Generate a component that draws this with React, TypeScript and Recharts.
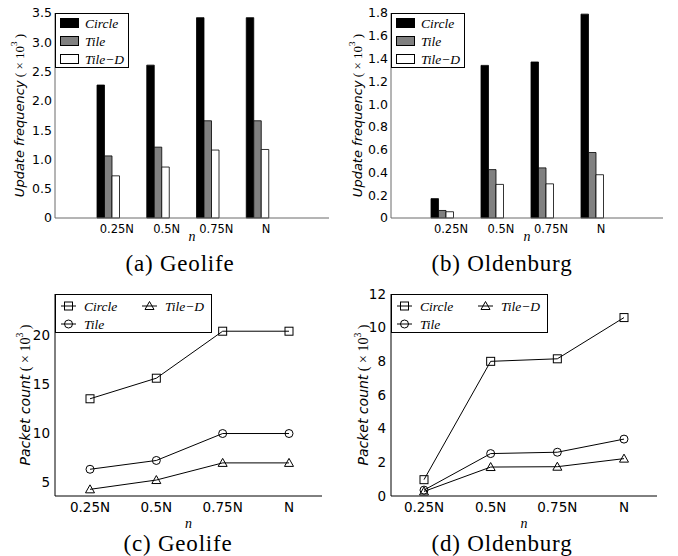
import React from "react";
import { Bar, BarChart, Line, LineChart, XAxis, YAxis } from "recharts";

const nLabels = ["0.25N", "0.5N", "0.75N", "N"];

// (a) Geolife, update frequency (x10^3)
const geoUpdCircle = [2.27, 2.61, 3.42, 3.42];
const geoUpdTile = [1.06, 1.21, 1.66, 1.66];
const geoUpdTileD = [0.72, 0.87, 1.16, 1.17];

// (b) Oldenburg, update frequency (x10^3)
const oldUpdCircle = [0.17, 1.34, 1.37, 1.79];
const oldUpdTile = [0.066, 0.425, 0.44, 0.575];
const oldUpdTileD = [0.055, 0.295, 0.3, 0.38];

// (c) Geolife, packet count (x10^3)
const geoPktCircle = [13.5, 15.6, 20.4, 20.4];
const geoPktTile = [6.3, 7.2, 9.95, 9.95];
const geoPktTileD = [4.25, 5.2, 6.95, 6.95];

// (d) Oldenburg, packet count (x10^3)
const oldPktCircle = [0.97, 8.0, 8.15, 10.6];
const oldPktTile = [0.35, 2.52, 2.6, 3.38];
const oldPktTileD = [0.27, 1.72, 1.74, 2.22];

const updTicksA = [0, 0.5, 1, 1.5, 2, 2.5, 3, 3.5];
const updTicksB = [0, 0.2, 0.4, 0.6, 0.8, 1, 1.2, 1.4, 1.6, 1.8];
const pktTicksC = [5, 10, 15, 20];
const pktTicksD = [0, 2, 4, 6, 8, 10, 12];

const sans = "'DejaVu Sans', sans-serif";
const serif = "'Times New Roman', 'Liberation Serif', Times, serif";
const GRAY = "#6a6a6a";

const rows = (a: number[], b: number[], c: number[]) =>
  nLabels.map((n, i) => ({ n, circle: a[i], tile: b[i], tileD: c[i] }));

const yLabel = (title: string, cx: number, fs: number) => (props: any) => {
  const vb = props.viewBox;
  const cy = vb.y + vb.height / 2;
  return (
    <text transform={`translate(${cx},${cy}) rotate(-90)`} textAnchor="middle" dominantBaseline="central" fontSize={fs} fill="#000">
      <tspan fontFamily={sans} fontStyle="italic">{title}</tspan>
      <tspan fontFamily={serif}>{" ( × 10"}</tspan>
      <tspan fontFamily={serif} fontSize={fs * 0.7} dy={-fs * 0.4}>3</tspan>
      <tspan fontFamily={serif} dy={fs * 0.4}>{" )"}</tspan>
    </text>
  );
};

const xLabel = (dy: number) => (props: any) => {
  const vb = props.viewBox;
  return (
    <text x={vb.x + vb.width / 2} y={vb.y + dy} textAnchor="middle" fontFamily={serif} fontStyle="italic" fontSize={14} fill="#000">
      n
    </text>
  );
};

const fmtBar = (v: number) => (v === 0 ? "0" : v.toFixed(1));

function BarLegend() {
  const items = [
    { name: "Circle", fill: "#000" },
    { name: "Tile", fill: "#808080" },
    { name: "Tile\u2212D", fill: "#fff" },
  ];
  return (
    <svg width={75} height={56} style={{ position: "absolute", left: 0, top: 0 }}>
      <rect x={0.5} y={0.5} width={73} height={54} fill="#fff" stroke="#000" />
      {items.map((it, i) => (
        <g key={it.name}>
          <rect x={5.5} y={5.5 + i * 18} width={18} height={9} fill={it.fill} stroke="#000" />
          <text x={30} y={14.5 + i * 18} fontFamily={serif} fontStyle="italic" fontSize={13.5}>
            {it.name}
          </text>
        </g>
      ))}
    </svg>
  );
}

function Marker({ kind, cx, cy }: { kind: string; cx: number; cy: number }) {
  if (kind === "square") return <rect x={cx - 4} y={cy - 4} width={8} height={8} fill="none" stroke="#000" />;
  if (kind === "circle") return <circle cx={cx} cy={cy} r={4} fill="none" stroke="#000" />;
  return <polygon points={`${cx},${cy - 4.5} ${cx - 4.5},${cy + 3.5} ${cx + 4.5},${cy + 3.5}`} fill="none" stroke="#000" />;
}

function LineLegend() {
  const items = [
    { name: "Circle", kind: "square", x: 6, y: 12 },
    { name: "Tile", kind: "circle", x: 6, y: 30 },
    { name: "Tile\u2212D", kind: "triangle", x: 87, y: 12 },
  ];
  return (
    <svg width={158} height={40} style={{ position: "absolute", left: 0, top: 0 }}>
      <rect x={0.5} y={0.5} width={156} height={38} fill="#fff" stroke="#000" />
      {items.map((it) => (
        <g key={it.name}>
          <line x1={it.x} x2={it.x + 15} y1={it.y} y2={it.y} stroke="#000" />
          <Marker kind={it.kind} cx={it.x + 7.5} cy={it.y} />
          <text x={it.x + 23} y={it.y + 4.5} fontFamily={serif} fontStyle="italic" fontSize={13.5}>
            {it.name}
          </text>
        </g>
      ))}
    </svg>
  );
}

function UpdateChart({ data, ticks, yWidth, right, pad }: any) {
  const domain = [ticks[0], ticks[ticks.length - 1]];
  return (
    <BarChart width={339} height={250} data={data} margin={{ top: 13, right, bottom: 0, left: 0 }} barGap={0}>
      <XAxis
        dataKey="n"
        height={32}
        padding={pad}
        interval={0}
        tickSize={0}
        tickMargin={7}
        stroke={GRAY}
        tick={{ fontSize: 11.5, fontFamily: sans, fill: "#000", dx: 9 }}
        label={{ content: xLabel(23) }}
      />
      <XAxis xAxisId="top" dataKey="n" orientation="top" mirror height={0} padding={pad} tick={false} tickLine={false} stroke={GRAY} />
      <YAxis
        width={yWidth}
        domain={domain}
        ticks={ticks}
        interval={0}
        tickSize={0}
        tickMargin={3}
        tickFormatter={fmtBar}
        stroke={GRAY}
        tick={{ fontSize: 12.5, fontFamily: sans, fill: "#000" }}
        label={{ content: yLabel("Update frequency", 19, 13) }}
      />
      <YAxis yAxisId="in" mirror width={0} domain={domain} ticks={ticks} interval={0} tick={false} axisLine={false} tickSize={4} stroke={GRAY} />
      <YAxis yAxisId="r" orientation="right" mirror width={0} domain={domain} ticks={ticks} interval={0} tick={false} tickSize={4} stroke={GRAY} />
      <Bar dataKey="circle" fill="#000" stroke="#000" strokeWidth={0.8} barSize={7.5} isAnimationActive={false} />
      <Bar dataKey="tile" fill="#808080" stroke="#000" strokeWidth={0.8} barSize={7.5} isAnimationActive={false} />
      <Bar dataKey="tileD" fill="#fff" stroke="#000" strokeWidth={0.8} barSize={7.5} isAnimationActive={false} />
    </BarChart>
  );
}

const dotOf = (kind: string) => (p: any) => <Marker key={`${kind}-${p.index}`} kind={kind} cx={p.cx} cy={p.cy} />;

function PacketChart({ data, ticks, domain, yWidth, right, pad }: any) {
  return (
    <LineChart width={339} height={256} data={data} margin={{ top: 16, right, bottom: 0, left: 0 }}>
      <XAxis
        dataKey="n"
        height={38}
        padding={pad}
        interval={0}
        tickSize={0}
        tickMargin={6}
        stroke="#000"
        tick={{ fontSize: 13.5, fontFamily: sans, fill: "#000" }}
        label={{ content: xLabel(32) }}
      />
      <XAxis xAxisId="bin" dataKey="n" mirror height={0} padding={pad} interval={0} tick={false} axisLine={false} tickSize={4} stroke="#000" />
      <XAxis xAxisId="top" dataKey="n" orientation="top" mirror height={0} padding={pad} interval={0} tick={false} tickSize={4} stroke="#000" />
      <YAxis
        width={yWidth}
        domain={domain}
        allowDataOverflow
        ticks={ticks}
        interval={0}
        tickSize={0}
        tickMargin={5}
        stroke="#000"
        tick={{ fontSize: 13.5, fontFamily: sans, fill: "#000" }}
        label={{ content: yLabel("Packet count", 25, 14) }}
      />
      <YAxis yAxisId="in" mirror width={0} domain={domain} allowDataOverflow ticks={ticks} interval={0} tick={false} axisLine={false} tickSize={4} stroke="#000" />
      <YAxis yAxisId="r" orientation="right" mirror width={0} domain={domain} allowDataOverflow ticks={ticks} interval={0} tick={false} tickSize={4} stroke="#000" />
      <Line dataKey="circle" stroke="#000" strokeWidth={1} dot={dotOf("square")} isAnimationActive={false} />
      <Line dataKey="tile" stroke="#000" strokeWidth={1} dot={dotOf("circle")} isAnimationActive={false} />
      <Line dataKey="tileD" stroke="#000" strokeWidth={1} dot={dotOf("triangle")} isAnimationActive={false} />
    </LineChart>
  );
}

function Caption({ cx, top, text }: { cx: number; top: number; text: string }) {
  return (
    <div
      style={{
        position: "absolute",
        left: cx - 100,
        top,
        width: 200,
        textAlign: "center",
        fontFamily: serif,
        fontSize: 23,
        letterSpacing: 0.8,
        lineHeight: "26px",
        whiteSpace: "nowrap",
      }}
    >
      {text}
    </div>
  );
}

export default function App() {
  return (
    <div style={{ position: "absolute", left: 0, top: 0, width: 678, height: 556, background: "#fff", overflow: "hidden" }}>
      <div style={{ position: "absolute", left: 0, top: 0 }}>
        <UpdateChart data={rows(geoUpdCircle, geoUpdTile, geoUpdTileD)} ticks={updTicksA} yWidth={55} right={10} pad={{ left: 28, right: 47 }} />
        <div style={{ position: "absolute", left: 55, top: 13 }}>
          <BarLegend />
        </div>
      </div>
      <div style={{ position: "absolute", left: 338, top: 0 }}>
        <UpdateChart data={rows(oldUpdCircle, oldUpdTile, oldUpdTileD)} ticks={updTicksB} yWidth={53} right={14} pad={{ left: 26, right: 46 }} />
        <div style={{ position: "absolute", left: 53, top: 13 }}>
          <BarLegend />
        </div>
      </div>
      <div style={{ position: "absolute", left: 0, top: 278 }}>
        <PacketChart data={rows(geoPktCircle, geoPktTile, geoPktTileD)} ticks={pktTicksC} domain={[3.57, 24.2]} yWidth={55} right={17} pad={{ left: 35, right: 33 }} />
        <div style={{ position: "absolute", left: 55, top: 16 }}>
          <LineLegend />
        </div>
      </div>
      <div style={{ position: "absolute", left: 338, top: 278 }}>
        <PacketChart data={rows(oldPktCircle, oldPktTile, oldPktTileD)} ticks={pktTicksD} domain={[0, 12]} yWidth={53} right={20} pad={{ left: 33, right: 33 }} />
        <div style={{ position: "absolute", left: 53, top: 16 }}>
          <LineLegend />
        </div>
      </div>
      <Caption cx={180} top={251} text="(a) Geolife" />
      <Caption cx={502} top={251} text="(b) Oldenburg" />
      <Caption cx={178} top={531} text="(c) Geolife" />
      <Caption cx={502} top={531} text="(d) Oldenburg" />
    </div>
  );
}
